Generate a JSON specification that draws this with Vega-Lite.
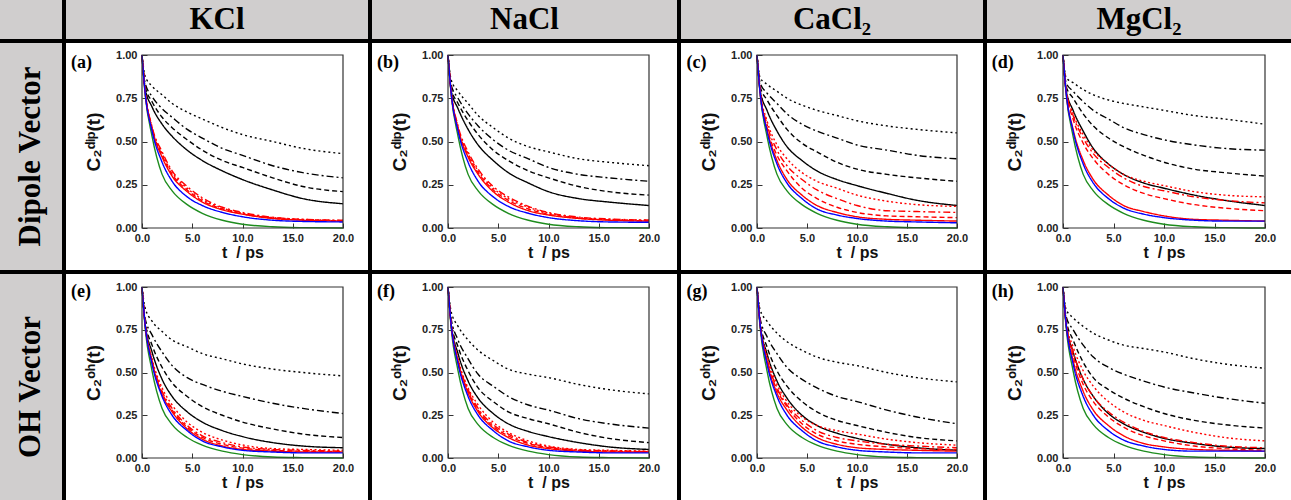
{
"$schema": "https://vega.github.io/schema/vega-lite/v6.json",
"padding": 0,
"background": "white",
"spacing": 0,
"config": {
 "view": {"stroke": null},
 "legend": {"disable": true},
 "axis": {"grid": false, "domain": false, "labelFont": "Liberation Sans", "labelFontWeight": "bold", "labelFontSize": 11, "labelColor": "#222", "titleFont": "Liberation Sans", "titleFontWeight": "bold", "titleFontSize": 16, "titleColor": "#111", "tickColor": "#333", "tickWidth": 1, "labelOverlap": false, "labelFlush": false, "labelBound": false},
 "axisY": {"titleFontSize": 19}
},
"datasets": {
 "gd": [{"t":0,"y":1},{"t":0.3,"y":0.78},{"t":1,"y":0.53},{"t":2,"y":0.31},{"t":3,"y":0.215},{"t":4.5,"y":0.135},{"t":6,"y":0.085},{"t":8,"y":0.045},{"t":10,"y":0.022},{"t":13,"y":0.007},{"t":16,"y":0.002},{"t":20,"y":0}],
 "go": [{"t":0,"y":1},{"t":0.3,"y":0.77},{"t":1,"y":0.51},{"t":2,"y":0.29},{"t":3,"y":0.195},{"t":4.5,"y":0.12},{"t":6,"y":0.075},{"t":8,"y":0.04},{"t":10,"y":0.02},{"t":13,"y":0.006},{"t":16,"y":0.002},{"t":20,"y":0}],
 "a": [
{"s":"K0","t":0,"y":1},{"s":"K0","t":0.3,"y":0.81},{"s":"K0","t":1,"y":0.70},{"s":"K0","t":2,"y":0.60},{"s":"K0","t":3,"y":0.53},{"s":"K0","t":4.5,"y":0.45},{"s":"K0","t":6,"y":0.39},{"s":"K0","t":8,"y":0.33},{"s":"K0","t":10,"y":0.28},{"s":"K0","t":13,"y":0.22},{"s":"K0","t":16,"y":0.17},{"s":"K0","t":20,"y":0.14},
{"s":"K1","t":0,"y":1},{"s":"K1","t":0.3,"y":0.82},{"s":"K1","t":1,"y":0.73},{"s":"K1","t":2,"y":0.64},{"s":"K1","t":3,"y":0.58},{"s":"K1","t":4.5,"y":0.51},{"s":"K1","t":6,"y":0.45},{"s":"K1","t":8,"y":0.39},{"s":"K1","t":10,"y":0.35},{"s":"K1","t":13,"y":0.29},{"s":"K1","t":16,"y":0.24},{"s":"K1","t":20,"y":0.21},
{"s":"K2","t":0,"y":1},{"s":"K2","t":0.3,"y":0.84},{"s":"K2","t":1,"y":0.76},{"s":"K2","t":2,"y":0.69},{"s":"K2","t":3,"y":0.64},{"s":"K2","t":4.5,"y":0.57},{"s":"K2","t":6,"y":0.52},{"s":"K2","t":8,"y":0.46},{"s":"K2","t":10,"y":0.42},{"s":"K2","t":13,"y":0.36},{"s":"K2","t":16,"y":0.32},{"s":"K2","t":20,"y":0.29},
{"s":"K3","t":0,"y":1},{"s":"K3","t":0.3,"y":0.88},{"s":"K3","t":1,"y":0.82},{"s":"K3","t":2,"y":0.77},{"s":"K3","t":3,"y":0.72},{"s":"K3","t":4.5,"y":0.67},{"s":"K3","t":6,"y":0.63},{"s":"K3","t":8,"y":0.58},{"s":"K3","t":10,"y":0.54},{"s":"K3","t":13,"y":0.50},{"s":"K3","t":16,"y":0.46},{"s":"K3","t":20,"y":0.43},
{"s":"R0","t":0,"y":1},{"s":"R0","t":0.3,"y":0.79},{"s":"R0","t":1,"y":0.57},{"s":"R0","t":2,"y":0.41},{"s":"R0","t":3,"y":0.30},{"s":"R0","t":4.5,"y":0.21},{"s":"R0","t":6,"y":0.15},{"s":"R0","t":8,"y":0.105},{"s":"R0","t":10,"y":0.08},{"s":"R0","t":13,"y":0.055},{"s":"R0","t":16,"y":0.045},{"s":"R0","t":20,"y":0.04},
{"s":"R1","t":0,"y":1},{"s":"R1","t":0.3,"y":0.795},{"s":"R1","t":1,"y":0.575},{"s":"R1","t":2,"y":0.42},{"s":"R1","t":3,"y":0.31},{"s":"R1","t":4.5,"y":0.22},{"s":"R1","t":6,"y":0.157},{"s":"R1","t":8,"y":0.11},{"s":"R1","t":10,"y":0.082},{"s":"R1","t":13,"y":0.057},{"s":"R1","t":16,"y":0.047},{"s":"R1","t":20,"y":0.041},
{"s":"R2","t":0,"y":1},{"s":"R2","t":0.3,"y":0.80},{"s":"R2","t":1,"y":0.585},{"s":"R2","t":2,"y":0.44},{"s":"R2","t":3,"y":0.33},{"s":"R2","t":4.5,"y":0.24},{"s":"R2","t":6,"y":0.175},{"s":"R2","t":8,"y":0.12},{"s":"R2","t":10,"y":0.09},{"s":"R2","t":13,"y":0.062},{"s":"R2","t":16,"y":0.05},{"s":"R2","t":20,"y":0.045},
{"s":"R3","t":0,"y":1},{"s":"R3","t":0.3,"y":0.80},{"s":"R3","t":1,"y":0.58},{"s":"R3","t":2,"y":0.43},{"s":"R3","t":3,"y":0.32},{"s":"R3","t":4.5,"y":0.23},{"s":"R3","t":6,"y":0.165},{"s":"R3","t":8,"y":0.115},{"s":"R3","t":10,"y":0.085},{"s":"R3","t":13,"y":0.06},{"s":"R3","t":16,"y":0.05},{"s":"R3","t":20,"y":0.043},
{"s":"B0","t":0,"y":1},{"s":"B0","t":0.3,"y":0.79},{"s":"B0","t":1,"y":0.56},{"s":"B0","t":2,"y":0.38},{"s":"B0","t":3,"y":0.27},{"s":"B0","t":4.5,"y":0.18},{"s":"B0","t":6,"y":0.13},{"s":"B0","t":8,"y":0.09},{"s":"B0","t":10,"y":0.065},{"s":"B0","t":13,"y":0.045},{"s":"B0","t":16,"y":0.038},{"s":"B0","t":20,"y":0.035}
 ],
 "b": [
{"s":"K0","t":0,"y":1},{"s":"K0","t":0.3,"y":0.80},{"s":"K0","t":1,"y":0.69},{"s":"K0","t":2,"y":0.57},{"s":"K0","t":3,"y":0.48},{"s":"K0","t":4.5,"y":0.39},{"s":"K0","t":6,"y":0.32},{"s":"K0","t":8,"y":0.26},{"s":"K0","t":10,"y":0.21},{"s":"K0","t":13,"y":0.17},{"s":"K0","t":16,"y":0.15},{"s":"K0","t":20,"y":0.13},
{"s":"K1","t":0,"y":1},{"s":"K1","t":0.3,"y":0.81},{"s":"K1","t":1,"y":0.72},{"s":"K1","t":2,"y":0.62},{"s":"K1","t":3,"y":0.54},{"s":"K1","t":4.5,"y":0.45},{"s":"K1","t":6,"y":0.39},{"s":"K1","t":8,"y":0.33},{"s":"K1","t":10,"y":0.29},{"s":"K1","t":13,"y":0.24},{"s":"K1","t":16,"y":0.21},{"s":"K1","t":20,"y":0.19},
{"s":"K2","t":0,"y":1},{"s":"K2","t":0.3,"y":0.83},{"s":"K2","t":1,"y":0.75},{"s":"K2","t":2,"y":0.66},{"s":"K2","t":3,"y":0.59},{"s":"K2","t":4.5,"y":0.51},{"s":"K2","t":6,"y":0.45},{"s":"K2","t":8,"y":0.40},{"s":"K2","t":10,"y":0.35},{"s":"K2","t":13,"y":0.31},{"s":"K2","t":16,"y":0.29},{"s":"K2","t":20,"y":0.27},
{"s":"K3","t":0,"y":1},{"s":"K3","t":0.3,"y":0.86},{"s":"K3","t":1,"y":0.79},{"s":"K3","t":2,"y":0.72},{"s":"K3","t":3,"y":0.65},{"s":"K3","t":4.5,"y":0.58},{"s":"K3","t":6,"y":0.52},{"s":"K3","t":8,"y":0.47},{"s":"K3","t":10,"y":0.44},{"s":"K3","t":13,"y":0.40},{"s":"K3","t":16,"y":0.38},{"s":"K3","t":20,"y":0.36},
{"s":"R0","t":0,"y":1},{"s":"R0","t":0.3,"y":0.79},{"s":"R0","t":1,"y":0.57},{"s":"R0","t":2,"y":0.41},{"s":"R0","t":3,"y":0.31},{"s":"R0","t":4.5,"y":0.21},{"s":"R0","t":6,"y":0.15},{"s":"R0","t":8,"y":0.10},{"s":"R0","t":10,"y":0.075},{"s":"R0","t":13,"y":0.055},{"s":"R0","t":16,"y":0.045},{"s":"R0","t":20,"y":0.04},
{"s":"R1","t":0,"y":1},{"s":"R1","t":0.3,"y":0.79},{"s":"R1","t":1,"y":0.575},{"s":"R1","t":2,"y":0.42},{"s":"R1","t":3,"y":0.32},{"s":"R1","t":4.5,"y":0.22},{"s":"R1","t":6,"y":0.16},{"s":"R1","t":8,"y":0.11},{"s":"R1","t":10,"y":0.08},{"s":"R1","t":13,"y":0.057},{"s":"R1","t":16,"y":0.047},{"s":"R1","t":20,"y":0.042},
{"s":"R2","t":0,"y":1},{"s":"R2","t":0.3,"y":0.80},{"s":"R2","t":1,"y":0.59},{"s":"R2","t":2,"y":0.44},{"s":"R2","t":3,"y":0.34},{"s":"R2","t":4.5,"y":0.24},{"s":"R2","t":6,"y":0.18},{"s":"R2","t":8,"y":0.125},{"s":"R2","t":10,"y":0.09},{"s":"R2","t":13,"y":0.063},{"s":"R2","t":16,"y":0.052},{"s":"R2","t":20,"y":0.046},
{"s":"R3","t":0,"y":1},{"s":"R3","t":0.3,"y":0.80},{"s":"R3","t":1,"y":0.58},{"s":"R3","t":2,"y":0.43},{"s":"R3","t":3,"y":0.33},{"s":"R3","t":4.5,"y":0.23},{"s":"R3","t":6,"y":0.17},{"s":"R3","t":8,"y":0.12},{"s":"R3","t":10,"y":0.085},{"s":"R3","t":13,"y":0.06},{"s":"R3","t":16,"y":0.05},{"s":"R3","t":20,"y":0.045},
{"s":"B0","t":0,"y":1},{"s":"B0","t":0.3,"y":0.79},{"s":"B0","t":1,"y":0.56},{"s":"B0","t":2,"y":0.38},{"s":"B0","t":3,"y":0.27},{"s":"B0","t":4.5,"y":0.18},{"s":"B0","t":6,"y":0.125},{"s":"B0","t":8,"y":0.085},{"s":"B0","t":10,"y":0.06},{"s":"B0","t":13,"y":0.042},{"s":"B0","t":16,"y":0.035},{"s":"B0","t":20,"y":0.033}
 ],
 "c": [
{"s":"K0","t":0,"y":1},{"s":"K0","t":0.3,"y":0.80},{"s":"K0","t":1,"y":0.68},{"s":"K0","t":2,"y":0.56},{"s":"K0","t":3,"y":0.47},{"s":"K0","t":4.5,"y":0.39},{"s":"K0","t":6,"y":0.33},{"s":"K0","t":8,"y":0.28},{"s":"K0","t":10,"y":0.245},{"s":"K0","t":13,"y":0.20},{"s":"K0","t":16,"y":0.16},{"s":"K0","t":20,"y":0.13},
{"s":"K1","t":0,"y":1},{"s":"K1","t":0.3,"y":0.82},{"s":"K1","t":1,"y":0.74},{"s":"K1","t":2,"y":0.65},{"s":"K1","t":3,"y":0.57},{"s":"K1","t":4.5,"y":0.49},{"s":"K1","t":6,"y":0.44},{"s":"K1","t":8,"y":0.38},{"s":"K1","t":10,"y":0.34},{"s":"K1","t":13,"y":0.31},{"s":"K1","t":16,"y":0.29},{"s":"K1","t":20,"y":0.27},
{"s":"K2","t":0,"y":1},{"s":"K2","t":0.3,"y":0.84},{"s":"K2","t":1,"y":0.78},{"s":"K2","t":2,"y":0.72},{"s":"K2","t":3,"y":0.66},{"s":"K2","t":4.5,"y":0.60},{"s":"K2","t":6,"y":0.56},{"s":"K2","t":8,"y":0.52},{"s":"K2","t":10,"y":0.48},{"s":"K2","t":13,"y":0.45},{"s":"K2","t":16,"y":0.42},{"s":"K2","t":20,"y":0.40},
{"s":"K3","t":0,"y":1},{"s":"K3","t":0.3,"y":0.87},{"s":"K3","t":1,"y":0.83},{"s":"K3","t":2,"y":0.79},{"s":"K3","t":3,"y":0.75},{"s":"K3","t":4.5,"y":0.71},{"s":"K3","t":6,"y":0.68},{"s":"K3","t":8,"y":0.65},{"s":"K3","t":10,"y":0.62},{"s":"K3","t":13,"y":0.59},{"s":"K3","t":16,"y":0.57},{"s":"K3","t":20,"y":0.55},
{"s":"R0","t":0,"y":1},{"s":"R0","t":0.3,"y":0.79},{"s":"R0","t":1,"y":0.57},{"s":"R0","t":2,"y":0.39},{"s":"R0","t":3,"y":0.28},{"s":"R0","t":4.5,"y":0.19},{"s":"R0","t":6,"y":0.13},{"s":"R0","t":8,"y":0.09},{"s":"R0","t":10,"y":0.065},{"s":"R0","t":13,"y":0.05},{"s":"R0","t":16,"y":0.045},{"s":"R0","t":20,"y":0.04},
{"s":"R1","t":0,"y":1},{"s":"R1","t":0.3,"y":0.79},{"s":"R1","t":1,"y":0.58},{"s":"R1","t":2,"y":0.42},{"s":"R1","t":3,"y":0.33},{"s":"R1","t":4.5,"y":0.23},{"s":"R1","t":6,"y":0.17},{"s":"R1","t":8,"y":0.12},{"s":"R1","t":10,"y":0.09},{"s":"R1","t":13,"y":0.07},{"s":"R1","t":16,"y":0.065},{"s":"R1","t":20,"y":0.06},
{"s":"R2","t":0,"y":1},{"s":"R2","t":0.3,"y":0.80},{"s":"R2","t":1,"y":0.60},{"s":"R2","t":2,"y":0.45},{"s":"R2","t":3,"y":0.36},{"s":"R2","t":4.5,"y":0.28},{"s":"R2","t":6,"y":0.22},{"s":"R2","t":8,"y":0.17},{"s":"R2","t":10,"y":0.13},{"s":"R2","t":13,"y":0.10},{"s":"R2","t":16,"y":0.095},{"s":"R2","t":20,"y":0.09},
{"s":"R3","t":0,"y":1},{"s":"R3","t":0.3,"y":0.80},{"s":"R3","t":1,"y":0.62},{"s":"R3","t":2,"y":0.48},{"s":"R3","t":3,"y":0.40},{"s":"R3","t":4.5,"y":0.32},{"s":"R3","t":6,"y":0.27},{"s":"R3","t":8,"y":0.23},{"s":"R3","t":10,"y":0.19},{"s":"R3","t":13,"y":0.155},{"s":"R3","t":16,"y":0.135},{"s":"R3","t":20,"y":0.125},
{"s":"B0","t":0,"y":1},{"s":"B0","t":0.3,"y":0.79},{"s":"B0","t":1,"y":0.56},{"s":"B0","t":2,"y":0.37},{"s":"B0","t":3,"y":0.26},{"s":"B0","t":4.5,"y":0.17},{"s":"B0","t":6,"y":0.11},{"s":"B0","t":8,"y":0.075},{"s":"B0","t":10,"y":0.055},{"s":"B0","t":13,"y":0.04},{"s":"B0","t":16,"y":0.035},{"s":"B0","t":20,"y":0.03}
 ],
 "d": [
{"s":"K0","t":0,"y":1},{"s":"K0","t":0.3,"y":0.80},{"s":"K0","t":1,"y":0.68},{"s":"K0","t":2,"y":0.56},{"s":"K0","t":3,"y":0.46},{"s":"K0","t":4.5,"y":0.37},{"s":"K0","t":6,"y":0.31},{"s":"K0","t":8,"y":0.26},{"s":"K0","t":10,"y":0.23},{"s":"K0","t":13,"y":0.19},{"s":"K0","t":16,"y":0.16},{"s":"K0","t":20,"y":0.13},
{"s":"K1","t":0,"y":1},{"s":"K1","t":0.3,"y":0.82},{"s":"K1","t":1,"y":0.75},{"s":"K1","t":2,"y":0.66},{"s":"K1","t":3,"y":0.59},{"s":"K1","t":4.5,"y":0.52},{"s":"K1","t":6,"y":0.47},{"s":"K1","t":8,"y":0.42},{"s":"K1","t":10,"y":0.38},{"s":"K1","t":13,"y":0.34},{"s":"K1","t":16,"y":0.32},{"s":"K1","t":20,"y":0.30},
{"s":"K2","t":0,"y":1},{"s":"K2","t":0.3,"y":0.84},{"s":"K2","t":1,"y":0.79},{"s":"K2","t":2,"y":0.73},{"s":"K2","t":3,"y":0.68},{"s":"K2","t":4.5,"y":0.63},{"s":"K2","t":6,"y":0.58},{"s":"K2","t":8,"y":0.54},{"s":"K2","t":10,"y":0.51},{"s":"K2","t":13,"y":0.48},{"s":"K2","t":16,"y":0.46},{"s":"K2","t":20,"y":0.45},
{"s":"K3","t":0,"y":1},{"s":"K3","t":0.3,"y":0.87},{"s":"K3","t":1,"y":0.84},{"s":"K3","t":2,"y":0.80},{"s":"K3","t":3,"y":0.77},{"s":"K3","t":4.5,"y":0.74},{"s":"K3","t":6,"y":0.72},{"s":"K3","t":8,"y":0.70},{"s":"K3","t":10,"y":0.68},{"s":"K3","t":13,"y":0.65},{"s":"K3","t":16,"y":0.63},{"s":"K3","t":20,"y":0.60},
{"s":"R0","t":0,"y":1},{"s":"R0","t":0.3,"y":0.79},{"s":"R0","t":1,"y":0.57},{"s":"R0","t":2,"y":0.39},{"s":"R0","t":3,"y":0.28},{"s":"R0","t":4.5,"y":0.19},{"s":"R0","t":6,"y":0.13},{"s":"R0","t":8,"y":0.095},{"s":"R0","t":10,"y":0.07},{"s":"R0","t":13,"y":0.05},{"s":"R0","t":16,"y":0.045},{"s":"R0","t":20,"y":0.04},
{"s":"R1","t":0,"y":1},{"s":"R1","t":0.3,"y":0.80},{"s":"R1","t":1,"y":0.63},{"s":"R1","t":2,"y":0.49},{"s":"R1","t":3,"y":0.40},{"s":"R1","t":4.5,"y":0.31},{"s":"R1","t":6,"y":0.25},{"s":"R1","t":8,"y":0.20},{"s":"R1","t":10,"y":0.17},{"s":"R1","t":13,"y":0.135},{"s":"R1","t":16,"y":0.115},{"s":"R1","t":20,"y":0.10},
{"s":"R2","t":0,"y":1},{"s":"R2","t":0.3,"y":0.80},{"s":"R2","t":1,"y":0.65},{"s":"R2","t":2,"y":0.52},{"s":"R2","t":3,"y":0.43},{"s":"R2","t":4.5,"y":0.35},{"s":"R2","t":6,"y":0.29},{"s":"R2","t":8,"y":0.24},{"s":"R2","t":10,"y":0.215},{"s":"R2","t":13,"y":0.18},{"s":"R2","t":16,"y":0.16},{"s":"R2","t":20,"y":0.145},
{"s":"R3","t":0,"y":1},{"s":"R3","t":0.3,"y":0.80},{"s":"R3","t":1,"y":0.66},{"s":"R3","t":2,"y":0.54},{"s":"R3","t":3,"y":0.45},{"s":"R3","t":4.5,"y":0.37},{"s":"R3","t":6,"y":0.31},{"s":"R3","t":8,"y":0.27},{"s":"R3","t":10,"y":0.245},{"s":"R3","t":13,"y":0.21},{"s":"R3","t":16,"y":0.19},{"s":"R3","t":20,"y":0.18},
{"s":"B0","t":0,"y":1},{"s":"B0","t":0.3,"y":0.79},{"s":"B0","t":1,"y":0.56},{"s":"B0","t":2,"y":0.37},{"s":"B0","t":3,"y":0.26},{"s":"B0","t":4.5,"y":0.17},{"s":"B0","t":6,"y":0.115},{"s":"B0","t":8,"y":0.08},{"s":"B0","t":10,"y":0.06},{"s":"B0","t":13,"y":0.045},{"s":"B0","t":16,"y":0.04},{"s":"B0","t":20,"y":0.04}
 ],
 "e": [
{"s":"K0","t":0,"y":1},{"s":"K0","t":0.3,"y":0.79},{"s":"K0","t":1,"y":0.62},{"s":"K0","t":2,"y":0.46},{"s":"K0","t":3,"y":0.36},{"s":"K0","t":4.5,"y":0.27},{"s":"K0","t":6,"y":0.21},{"s":"K0","t":8,"y":0.16},{"s":"K0","t":10,"y":0.125},{"s":"K0","t":13,"y":0.09},{"s":"K0","t":16,"y":0.07},{"s":"K0","t":20,"y":0.06},
{"s":"K1","t":0,"y":1},{"s":"K1","t":0.3,"y":0.80},{"s":"K1","t":1,"y":0.66},{"s":"K1","t":2,"y":0.53},{"s":"K1","t":3,"y":0.44},{"s":"K1","t":4.5,"y":0.36},{"s":"K1","t":6,"y":0.30},{"s":"K1","t":8,"y":0.25},{"s":"K1","t":10,"y":0.21},{"s":"K1","t":13,"y":0.17},{"s":"K1","t":16,"y":0.14},{"s":"K1","t":20,"y":0.12},
{"s":"K2","t":0,"y":1},{"s":"K2","t":0.3,"y":0.82},{"s":"K2","t":1,"y":0.72},{"s":"K2","t":2,"y":0.62},{"s":"K2","t":3,"y":0.54},{"s":"K2","t":4.5,"y":0.47},{"s":"K2","t":6,"y":0.43},{"s":"K2","t":8,"y":0.39},{"s":"K2","t":10,"y":0.36},{"s":"K2","t":13,"y":0.32},{"s":"K2","t":16,"y":0.29},{"s":"K2","t":20,"y":0.26},
{"s":"K3","t":0,"y":1},{"s":"K3","t":0.3,"y":0.88},{"s":"K3","t":1,"y":0.80},{"s":"K3","t":2,"y":0.74},{"s":"K3","t":3,"y":0.69},{"s":"K3","t":4.5,"y":0.65},{"s":"K3","t":6,"y":0.61},{"s":"K3","t":8,"y":0.58},{"s":"K3","t":10,"y":0.55},{"s":"K3","t":13,"y":0.52},{"s":"K3","t":16,"y":0.50},{"s":"K3","t":20,"y":0.48},
{"s":"R0","t":0,"y":1},{"s":"R0","t":0.3,"y":0.79},{"s":"R0","t":1,"y":0.56},{"s":"R0","t":2,"y":0.37},{"s":"R0","t":3,"y":0.27},{"s":"R0","t":4.5,"y":0.17},{"s":"R0","t":6,"y":0.11},{"s":"R0","t":8,"y":0.07},{"s":"R0","t":10,"y":0.05},{"s":"R0","t":13,"y":0.04},{"s":"R0","t":16,"y":0.035},{"s":"R0","t":20,"y":0.035},
{"s":"R1","t":0,"y":1},{"s":"R1","t":0.3,"y":0.79},{"s":"R1","t":1,"y":0.565},{"s":"R1","t":2,"y":0.38},{"s":"R1","t":3,"y":0.28},{"s":"R1","t":4.5,"y":0.18},{"s":"R1","t":6,"y":0.12},{"s":"R1","t":8,"y":0.08},{"s":"R1","t":10,"y":0.058},{"s":"R1","t":13,"y":0.045},{"s":"R1","t":16,"y":0.04},{"s":"R1","t":20,"y":0.038},
{"s":"R2","t":0,"y":1},{"s":"R2","t":0.3,"y":0.79},{"s":"R2","t":1,"y":0.57},{"s":"R2","t":2,"y":0.39},{"s":"R2","t":3,"y":0.29},{"s":"R2","t":4.5,"y":0.19},{"s":"R2","t":6,"y":0.13},{"s":"R2","t":8,"y":0.09},{"s":"R2","t":10,"y":0.065},{"s":"R2","t":13,"y":0.05},{"s":"R2","t":16,"y":0.045},{"s":"R2","t":20,"y":0.04},
{"s":"R3","t":0,"y":1},{"s":"R3","t":0.3,"y":0.79},{"s":"R3","t":1,"y":0.58},{"s":"R3","t":2,"y":0.41},{"s":"R3","t":3,"y":0.31},{"s":"R3","t":4.5,"y":0.21},{"s":"R3","t":6,"y":0.15},{"s":"R3","t":8,"y":0.105},{"s":"R3","t":10,"y":0.076},{"s":"R3","t":13,"y":0.055},{"s":"R3","t":16,"y":0.05},{"s":"R3","t":20,"y":0.045},
{"s":"B0","t":0,"y":1},{"s":"B0","t":0.3,"y":0.79},{"s":"B0","t":1,"y":0.55},{"s":"B0","t":2,"y":0.36},{"s":"B0","t":3,"y":0.25},{"s":"B0","t":4.5,"y":0.16},{"s":"B0","t":6,"y":0.10},{"s":"B0","t":8,"y":0.065},{"s":"B0","t":10,"y":0.045},{"s":"B0","t":13,"y":0.035},{"s":"B0","t":16,"y":0.03},{"s":"B0","t":20,"y":0.03}
 ],
 "f": [
{"s":"K0","t":0,"y":1},{"s":"K0","t":0.3,"y":0.79},{"s":"K0","t":1,"y":0.61},{"s":"K0","t":2,"y":0.45},{"s":"K0","t":3,"y":0.35},{"s":"K0","t":4.5,"y":0.26},{"s":"K0","t":6,"y":0.20},{"s":"K0","t":8,"y":0.155},{"s":"K0","t":10,"y":0.125},{"s":"K0","t":13,"y":0.09},{"s":"K0","t":16,"y":0.065},{"s":"K0","t":20,"y":0.05},
{"s":"K1","t":0,"y":1},{"s":"K1","t":0.3,"y":0.80},{"s":"K1","t":1,"y":0.65},{"s":"K1","t":2,"y":0.51},{"s":"K1","t":3,"y":0.41},{"s":"K1","t":4.5,"y":0.33},{"s":"K1","t":6,"y":0.27},{"s":"K1","t":8,"y":0.23},{"s":"K1","t":10,"y":0.20},{"s":"K1","t":13,"y":0.15},{"s":"K1","t":16,"y":0.115},{"s":"K1","t":20,"y":0.09},
{"s":"K2","t":0,"y":1},{"s":"K2","t":0.3,"y":0.82},{"s":"K2","t":1,"y":0.69},{"s":"K2","t":2,"y":0.58},{"s":"K2","t":3,"y":0.49},{"s":"K2","t":4.5,"y":0.42},{"s":"K2","t":6,"y":0.36},{"s":"K2","t":8,"y":0.31},{"s":"K2","t":10,"y":0.28},{"s":"K2","t":13,"y":0.23},{"s":"K2","t":16,"y":0.20},{"s":"K2","t":20,"y":0.175},
{"s":"K3","t":0,"y":1},{"s":"K3","t":0.3,"y":0.86},{"s":"K3","t":1,"y":0.77},{"s":"K3","t":2,"y":0.69},{"s":"K3","t":3,"y":0.63},{"s":"K3","t":4.5,"y":0.57},{"s":"K3","t":6,"y":0.52},{"s":"K3","t":8,"y":0.49},{"s":"K3","t":10,"y":0.47},{"s":"K3","t":13,"y":0.43},{"s":"K3","t":16,"y":0.40},{"s":"K3","t":20,"y":0.375},
{"s":"R0","t":0,"y":1},{"s":"R0","t":0.3,"y":0.79},{"s":"R0","t":1,"y":0.56},{"s":"R0","t":2,"y":0.38},{"s":"R0","t":3,"y":0.27},{"s":"R0","t":4.5,"y":0.175},{"s":"R0","t":6,"y":0.12},{"s":"R0","t":8,"y":0.075},{"s":"R0","t":10,"y":0.055},{"s":"R0","t":13,"y":0.04},{"s":"R0","t":16,"y":0.035},{"s":"R0","t":20,"y":0.035},
{"s":"R1","t":0,"y":1},{"s":"R1","t":0.3,"y":0.79},{"s":"R1","t":1,"y":0.565},{"s":"R1","t":2,"y":0.39},{"s":"R1","t":3,"y":0.28},{"s":"R1","t":4.5,"y":0.185},{"s":"R1","t":6,"y":0.13},{"s":"R1","t":8,"y":0.085},{"s":"R1","t":10,"y":0.06},{"s":"R1","t":13,"y":0.045},{"s":"R1","t":16,"y":0.04},{"s":"R1","t":20,"y":0.037},
{"s":"R2","t":0,"y":1},{"s":"R2","t":0.3,"y":0.79},{"s":"R2","t":1,"y":0.57},{"s":"R2","t":2,"y":0.40},{"s":"R2","t":3,"y":0.29},{"s":"R2","t":4.5,"y":0.195},{"s":"R2","t":6,"y":0.14},{"s":"R2","t":8,"y":0.09},{"s":"R2","t":10,"y":0.065},{"s":"R2","t":13,"y":0.047},{"s":"R2","t":16,"y":0.042},{"s":"R2","t":20,"y":0.038},
{"s":"R3","t":0,"y":1},{"s":"R3","t":0.3,"y":0.79},{"s":"R3","t":1,"y":0.58},{"s":"R3","t":2,"y":0.41},{"s":"R3","t":3,"y":0.31},{"s":"R3","t":4.5,"y":0.21},{"s":"R3","t":6,"y":0.15},{"s":"R3","t":8,"y":0.10},{"s":"R3","t":10,"y":0.07},{"s":"R3","t":13,"y":0.05},{"s":"R3","t":16,"y":0.045},{"s":"R3","t":20,"y":0.04},
{"s":"B0","t":0,"y":1},{"s":"B0","t":0.3,"y":0.79},{"s":"B0","t":1,"y":0.55},{"s":"B0","t":2,"y":0.36},{"s":"B0","t":3,"y":0.25},{"s":"B0","t":4.5,"y":0.16},{"s":"B0","t":6,"y":0.10},{"s":"B0","t":8,"y":0.065},{"s":"B0","t":10,"y":0.045},{"s":"B0","t":13,"y":0.035},{"s":"B0","t":16,"y":0.03},{"s":"B0","t":20,"y":0.03}
 ],
 "g": [
{"s":"K0","t":0,"y":1},{"s":"K0","t":0.3,"y":0.79},{"s":"K0","t":1,"y":0.61},{"s":"K0","t":2,"y":0.45},{"s":"K0","t":3,"y":0.35},{"s":"K0","t":4.5,"y":0.25},{"s":"K0","t":6,"y":0.19},{"s":"K0","t":8,"y":0.145},{"s":"K0","t":10,"y":0.115},{"s":"K0","t":13,"y":0.08},{"s":"K0","t":16,"y":0.06},{"s":"K0","t":20,"y":0.045},
{"s":"K1","t":0,"y":1},{"s":"K1","t":0.3,"y":0.80},{"s":"K1","t":1,"y":0.65},{"s":"K1","t":2,"y":0.51},{"s":"K1","t":3,"y":0.42},{"s":"K1","t":4.5,"y":0.33},{"s":"K1","t":6,"y":0.27},{"s":"K1","t":8,"y":0.22},{"s":"K1","t":10,"y":0.19},{"s":"K1","t":13,"y":0.15},{"s":"K1","t":16,"y":0.12},{"s":"K1","t":20,"y":0.10},
{"s":"K2","t":0,"y":1},{"s":"K2","t":0.3,"y":0.82},{"s":"K2","t":1,"y":0.71},{"s":"K2","t":2,"y":0.61},{"s":"K2","t":3,"y":0.53},{"s":"K2","t":4.5,"y":0.46},{"s":"K2","t":6,"y":0.41},{"s":"K2","t":8,"y":0.36},{"s":"K2","t":10,"y":0.33},{"s":"K2","t":13,"y":0.28},{"s":"K2","t":16,"y":0.24},{"s":"K2","t":20,"y":0.20},
{"s":"K3","t":0,"y":1},{"s":"K3","t":0.3,"y":0.87},{"s":"K3","t":1,"y":0.80},{"s":"K3","t":2,"y":0.73},{"s":"K3","t":3,"y":0.68},{"s":"K3","t":4.5,"y":0.63},{"s":"K3","t":6,"y":0.59},{"s":"K3","t":8,"y":0.56},{"s":"K3","t":10,"y":0.54},{"s":"K3","t":13,"y":0.50},{"s":"K3","t":16,"y":0.47},{"s":"K3","t":20,"y":0.445},
{"s":"R0","t":0,"y":1},{"s":"R0","t":0.3,"y":0.79},{"s":"R0","t":1,"y":0.56},{"s":"R0","t":2,"y":0.38},{"s":"R0","t":3,"y":0.28},{"s":"R0","t":4.5,"y":0.18},{"s":"R0","t":6,"y":0.12},{"s":"R0","t":8,"y":0.08},{"s":"R0","t":10,"y":0.06},{"s":"R0","t":13,"y":0.05},{"s":"R0","t":16,"y":0.045},{"s":"R0","t":20,"y":0.04},
{"s":"R1","t":0,"y":1},{"s":"R1","t":0.3,"y":0.79},{"s":"R1","t":1,"y":0.57},{"s":"R1","t":2,"y":0.40},{"s":"R1","t":3,"y":0.30},{"s":"R1","t":4.5,"y":0.20},{"s":"R1","t":6,"y":0.14},{"s":"R1","t":8,"y":0.10},{"s":"R1","t":10,"y":0.08},{"s":"R1","t":13,"y":0.065},{"s":"R1","t":16,"y":0.055},{"s":"R1","t":20,"y":0.05},
{"s":"R2","t":0,"y":1},{"s":"R2","t":0.3,"y":0.79},{"s":"R2","t":1,"y":0.58},{"s":"R2","t":2,"y":0.41},{"s":"R2","t":3,"y":0.31},{"s":"R2","t":4.5,"y":0.22},{"s":"R2","t":6,"y":0.16},{"s":"R2","t":8,"y":0.12},{"s":"R2","t":10,"y":0.10},{"s":"R2","t":13,"y":0.08},{"s":"R2","t":16,"y":0.07},{"s":"R2","t":20,"y":0.06},
{"s":"R3","t":0,"y":1},{"s":"R3","t":0.3,"y":0.79},{"s":"R3","t":1,"y":0.60},{"s":"R3","t":2,"y":0.43},{"s":"R3","t":3,"y":0.33},{"s":"R3","t":4.5,"y":0.24},{"s":"R3","t":6,"y":0.19},{"s":"R3","t":8,"y":0.16},{"s":"R3","t":10,"y":0.14},{"s":"R3","t":13,"y":0.11},{"s":"R3","t":16,"y":0.09},{"s":"R3","t":20,"y":0.075},
{"s":"B0","t":0,"y":1},{"s":"B0","t":0.3,"y":0.79},{"s":"B0","t":1,"y":0.55},{"s":"B0","t":2,"y":0.36},{"s":"B0","t":3,"y":0.25},{"s":"B0","t":4.5,"y":0.16},{"s":"B0","t":6,"y":0.10},{"s":"B0","t":8,"y":0.065},{"s":"B0","t":10,"y":0.045},{"s":"B0","t":13,"y":0.035},{"s":"B0","t":16,"y":0.03},{"s":"B0","t":20,"y":0.03}
 ],
 "h": [
{"s":"K0","t":0,"y":1},{"s":"K0","t":0.3,"y":0.79},{"s":"K0","t":1,"y":0.62},{"s":"K0","t":2,"y":0.46},{"s":"K0","t":3,"y":0.36},{"s":"K0","t":4.5,"y":0.26},{"s":"K0","t":6,"y":0.20},{"s":"K0","t":8,"y":0.15},{"s":"K0","t":10,"y":0.115},{"s":"K0","t":13,"y":0.085},{"s":"K0","t":16,"y":0.065},{"s":"K0","t":20,"y":0.055},
{"s":"K1","t":0,"y":1},{"s":"K1","t":0.3,"y":0.81},{"s":"K1","t":1,"y":0.69},{"s":"K1","t":2,"y":0.56},{"s":"K1","t":3,"y":0.47},{"s":"K1","t":4.5,"y":0.40},{"s":"K1","t":6,"y":0.35},{"s":"K1","t":8,"y":0.30},{"s":"K1","t":10,"y":0.26},{"s":"K1","t":13,"y":0.22},{"s":"K1","t":16,"y":0.195},{"s":"K1","t":20,"y":0.175},
{"s":"K2","t":0,"y":1},{"s":"K2","t":0.3,"y":0.83},{"s":"K2","t":1,"y":0.75},{"s":"K2","t":2,"y":0.66},{"s":"K2","t":3,"y":0.59},{"s":"K2","t":4.5,"y":0.53},{"s":"K2","t":6,"y":0.49},{"s":"K2","t":8,"y":0.45},{"s":"K2","t":10,"y":0.415},{"s":"K2","t":13,"y":0.38},{"s":"K2","t":16,"y":0.35},{"s":"K2","t":20,"y":0.32},
{"s":"K3","t":0,"y":1},{"s":"K3","t":0.3,"y":0.87},{"s":"K3","t":1,"y":0.82},{"s":"K3","t":2,"y":0.77},{"s":"K3","t":3,"y":0.73},{"s":"K3","t":4.5,"y":0.69},{"s":"K3","t":6,"y":0.66},{"s":"K3","t":8,"y":0.64},{"s":"K3","t":10,"y":0.62},{"s":"K3","t":13,"y":0.58},{"s":"K3","t":16,"y":0.55},{"s":"K3","t":20,"y":0.525},
{"s":"R0","t":0,"y":1},{"s":"R0","t":0.3,"y":0.79},{"s":"R0","t":1,"y":0.57},{"s":"R0","t":2,"y":0.39},{"s":"R0","t":3,"y":0.28},{"s":"R0","t":4.5,"y":0.19},{"s":"R0","t":6,"y":0.13},{"s":"R0","t":8,"y":0.085},{"s":"R0","t":10,"y":0.065},{"s":"R0","t":13,"y":0.05},{"s":"R0","t":16,"y":0.045},{"s":"R0","t":20,"y":0.04},
{"s":"R1","t":0,"y":1},{"s":"R1","t":0.3,"y":0.79},{"s":"R1","t":1,"y":0.60},{"s":"R1","t":2,"y":0.43},{"s":"R1","t":3,"y":0.33},{"s":"R1","t":4.5,"y":0.24},{"s":"R1","t":6,"y":0.18},{"s":"R1","t":8,"y":0.13},{"s":"R1","t":10,"y":0.10},{"s":"R1","t":13,"y":0.07},{"s":"R1","t":16,"y":0.055},{"s":"R1","t":20,"y":0.045},
{"s":"R2","t":0,"y":1},{"s":"R2","t":0.3,"y":0.79},{"s":"R2","t":1,"y":0.62},{"s":"R2","t":2,"y":0.46},{"s":"R2","t":3,"y":0.36},{"s":"R2","t":4.5,"y":0.27},{"s":"R2","t":6,"y":0.21},{"s":"R2","t":8,"y":0.155},{"s":"R2","t":10,"y":0.12},{"s":"R2","t":13,"y":0.09},{"s":"R2","t":16,"y":0.07},{"s":"R2","t":20,"y":0.06},
{"s":"R3","t":0,"y":1},{"s":"R3","t":0.3,"y":0.80},{"s":"R3","t":1,"y":0.65},{"s":"R3","t":2,"y":0.51},{"s":"R3","t":3,"y":0.42},{"s":"R3","t":4.5,"y":0.33},{"s":"R3","t":6,"y":0.27},{"s":"R3","t":8,"y":0.22},{"s":"R3","t":10,"y":0.19},{"s":"R3","t":13,"y":0.15},{"s":"R3","t":16,"y":0.12},{"s":"R3","t":20,"y":0.10},
{"s":"B0","t":0,"y":1},{"s":"B0","t":0.3,"y":0.79},{"s":"B0","t":1,"y":0.55},{"s":"B0","t":2,"y":0.36},{"s":"B0","t":3,"y":0.25},{"s":"B0","t":4.5,"y":0.16},{"s":"B0","t":6,"y":0.105},{"s":"B0","t":8,"y":0.07},{"s":"B0","t":10,"y":0.05},{"s":"B0","t":13,"y":0.04},{"s":"B0","t":16,"y":0.04},{"s":"B0","t":20,"y":0.04}
 ]
},
"vconcat": [
 {"spacing": 0, "hconcat": [
  {"width":62,"height":39,"data":{"values":[]},"mark":{"type":"text","text":""},"view":{"fill":"#d0cece"}},
  {"width":4,"height":39,"data":{"values":[]},"mark":{"type":"text","text":""},"view":{"fill":"#000"}},
  {"width":302,"height":39,"data":{"values":[{"n":"KCl"}]},"mark":{"type":"text","font":"Liberation Serif","fontWeight":"bold","fontSize":31,"baseline":"middle","align":"center"},"encoding":{"text":{"field":"n"}},"view":{"fill":"#d0cece"}},
  {"width":4,"height":39,"data":{"values":[]},"mark":{"type":"text","text":""},"view":{"fill":"#000"}},
  {"width":305,"height":39,"data":{"values":[{"n":"NaCl"}]},"mark":{"type":"text","font":"Liberation Serif","fontWeight":"bold","fontSize":31,"baseline":"middle","align":"center"},"encoding":{"text":{"field":"n"}},"view":{"fill":"#d0cece"}},
  {"width":4,"height":39,"data":{"values":[]},"mark":{"type":"text","text":""},"view":{"fill":"#000"}},
  {"width":302,"height":39,"data":{"values":[{"n":"CaCl₂"}]},"mark":{"type":"text","font":"Liberation Serif","fontWeight":"bold","fontSize":31,"baseline":"middle","align":"center"},"encoding":{"text":{"field":"n"}},"view":{"fill":"#d0cece"}},
  {"width":4,"height":39,"data":{"values":[]},"mark":{"type":"text","text":""},"view":{"fill":"#000"}},
  {"width":304,"height":39,"data":{"values":[{"n":"MgCl₂"}]},"mark":{"type":"text","font":"Liberation Serif","fontWeight":"bold","fontSize":31,"baseline":"middle","align":"center"},"encoding":{"text":{"field":"n"}},"view":{"fill":"#d0cece"}}
 ]},
 {"width":1291,"height":4,"data":{"values":[]},"mark":{"type":"text","text":""},"view":{"fill":"#000"}},
 {"spacing": 0, "hconcat": [
  {"width":62,"height":227,"data":{"values":[{"n":"Dipole Vector"}]},"mark":{"type":"text","font":"Liberation Serif","fontWeight":"bold","fontSize":31,"angle":270,"baseline":"middle","align":"center"},"encoding":{"text":{"field":"n"}},"view":{"fill":"#d0cece"}},
  {"width":4,"height":227,"data":{"values":[]},"mark":{"type":"text","text":""},"view":{"fill":"#000"}},
  {"width":302,"height":227,"layer":[
   {"data":{"name":"gd"},"mark":{"type":"line","color":"#1e8c1e","strokeWidth":1.4,"interpolate":"monotone"},"encoding":{"x":{"field":"t","type":"quantitative"},"y":{"field":"y","type":"quantitative"}}},
   {"data":{"name":"a"},"mark":{"type":"line","interpolate":"monotone"},"encoding":{
    "x":{"field":"t","type":"quantitative","scale":{"domain":[0,20],"range":[76,277],"nice":false,"zero":false},"axis":{"offset":-42,"values":[0,2.5,5,7.5,10,12.5,15,17.5,20],"format":".1f","labelExpr":"datum.value % 5 === 0 ? datum.label : ''","tickSize":{"condition":{"test":"datum.value % 5 === 0","value":-5},"value":-3},"labelPadding":9,"title":"t\u00a0 / ps","titlePadding":1}},
    "y":{"field":"y","type":"quantitative","scale":{"domain":[0,1],"range":[185,12],"nice":false,"zero":false},"axis":{"offset":-76,"values":[0,0.125,0.25,0.375,0.5,0.625,0.75,0.875,1],"format":".2f","labelExpr":"datum.value % 0.25 === 0 ? datum.label : ''","tickSize":{"condition":{"test":"datum.value % 0.25 === 0","value":-5},"value":-3},"labelPadding":10,"title":"C₂ᵈⁱᵖ(t)","titlePadding":12}},
    "color":{"field":"s","type":"nominal","scale":{"domain":["K0","K1","K2","K3","R0","R1","R2","R3","B0"],"range":["#000000","#000000","#000000","#000000","#ff0000","#ff0000","#ff0000","#ff0000","#0000ff"]}},
    "strokeDash":{"field":"s","type":"nominal","scale":{"domain":["K0","K1","K2","K3","R0","R1","R2","R3","B0"],"range":[[1,0],[5,3],[7,3,2,3],[2,3],[1,0],[5,3],[7,3,2,3],[2,2.5],[1,0]]}},
    "strokeWidth":{"field":"s","type":"ordinal","scale":{"domain":["K0","K1","K2","K3","R0","R1","R2","R3","B0"],"range":[1.4,1.4,1.4,1.7,1.6,1.6,1.6,2.2,2.8]}}}},
   {"data":{"values":[{}]},"mark":{"type":"rect","filled":false,"color":"#333","strokeWidth":1.2},"encoding":{"x":{"datum":0,"type":"quantitative"},"x2":{"datum":20},"y":{"datum":0,"type":"quantitative"},"y2":{"datum":1}}},
   {"data":{"values":[{"lab":"(a)"}]},"mark":{"type":"text","font":"Liberation Serif","fontWeight":"bold","fontSize":18,"align":"left","baseline":"alphabetic"},"encoding":{"x":{"datum":-7.06,"type":"quantitative","scale":{"domain":[0,20],"nice":false,"zero":false}},"y":{"datum":0.925,"type":"quantitative","scale":{"domain":[0,1],"nice":false,"zero":false}},"text":{"field":"lab"}}}
  ]},
  {"width":4,"height":227,"data":{"values":[]},"mark":{"type":"text","text":""},"view":{"fill":"#000"}},
  {"width":305,"height":227,"layer":[
   {"data":{"name":"gd"},"mark":{"type":"line","color":"#1e8c1e","strokeWidth":1.4,"interpolate":"monotone"},"encoding":{"x":{"field":"t","type":"quantitative"},"y":{"field":"y","type":"quantitative"}}},
   {"data":{"name":"b"},"mark":{"type":"line","interpolate":"monotone"},"encoding":{
    "x":{"field":"t","type":"quantitative","scale":{"domain":[0,20],"range":[76,277],"nice":false,"zero":false},"axis":{"offset":-42,"values":[0,2.5,5,7.5,10,12.5,15,17.5,20],"format":".1f","labelExpr":"datum.value % 5 === 0 ? datum.label : ''","tickSize":{"condition":{"test":"datum.value % 5 === 0","value":-5},"value":-3},"labelPadding":9,"title":"t\u00a0 / ps","titlePadding":1}},
    "y":{"field":"y","type":"quantitative","scale":{"domain":[0,1],"range":[185,12],"nice":false,"zero":false},"axis":{"offset":-76,"values":[0,0.125,0.25,0.375,0.5,0.625,0.75,0.875,1],"format":".2f","labelExpr":"datum.value % 0.25 === 0 ? datum.label : ''","tickSize":{"condition":{"test":"datum.value % 0.25 === 0","value":-5},"value":-3},"labelPadding":10,"title":"C₂ᵈⁱᵖ(t)","titlePadding":12}},
    "color":{"field":"s","type":"nominal","scale":{"domain":["K0","K1","K2","K3","R0","R1","R2","R3","B0"],"range":["#000000","#000000","#000000","#000000","#ff0000","#ff0000","#ff0000","#ff0000","#0000ff"]}},
    "strokeDash":{"field":"s","type":"nominal","scale":{"domain":["K0","K1","K2","K3","R0","R1","R2","R3","B0"],"range":[[1,0],[5,3],[7,3,2,3],[2,3],[1,0],[5,3],[7,3,2,3],[2,2.5],[1,0]]}},
    "strokeWidth":{"field":"s","type":"ordinal","scale":{"domain":["K0","K1","K2","K3","R0","R1","R2","R3","B0"],"range":[1.4,1.4,1.4,1.7,1.6,1.6,1.6,2.2,2.8]}}}},
   {"data":{"values":[{}]},"mark":{"type":"rect","filled":false,"color":"#333","strokeWidth":1.2},"encoding":{"x":{"datum":0,"type":"quantitative"},"x2":{"datum":20},"y":{"datum":0,"type":"quantitative"},"y2":{"datum":1}}},
   {"data":{"values":[{"lab":"(b)"}]},"mark":{"type":"text","font":"Liberation Serif","fontWeight":"bold","fontSize":18,"align":"left","baseline":"alphabetic"},"encoding":{"x":{"datum":-7.06,"type":"quantitative","scale":{"domain":[0,20],"nice":false,"zero":false}},"y":{"datum":0.925,"type":"quantitative","scale":{"domain":[0,1],"nice":false,"zero":false}},"text":{"field":"lab"}}}
  ]},
  {"width":4,"height":227,"data":{"values":[]},"mark":{"type":"text","text":""},"view":{"fill":"#000"}},
  {"width":302,"height":227,"layer":[
   {"data":{"name":"gd"},"mark":{"type":"line","color":"#1e8c1e","strokeWidth":1.4,"interpolate":"monotone"},"encoding":{"x":{"field":"t","type":"quantitative"},"y":{"field":"y","type":"quantitative"}}},
   {"data":{"name":"c"},"mark":{"type":"line","interpolate":"monotone"},"encoding":{
    "x":{"field":"t","type":"quantitative","scale":{"domain":[0,20],"range":[76,276],"nice":false,"zero":false},"axis":{"offset":-42,"values":[0,2.5,5,7.5,10,12.5,15,17.5,20],"format":".1f","labelExpr":"datum.value % 5 === 0 ? datum.label : ''","tickSize":{"condition":{"test":"datum.value % 5 === 0","value":-5},"value":-3},"labelPadding":9,"title":"t\u00a0 / ps","titlePadding":1}},
    "y":{"field":"y","type":"quantitative","scale":{"domain":[0,1],"range":[185,12],"nice":false,"zero":false},"axis":{"offset":-76,"values":[0,0.125,0.25,0.375,0.5,0.625,0.75,0.875,1],"format":".2f","labelExpr":"datum.value % 0.25 === 0 ? datum.label : ''","tickSize":{"condition":{"test":"datum.value % 0.25 === 0","value":-5},"value":-3},"labelPadding":10,"title":"C₂ᵈⁱᵖ(t)","titlePadding":12}},
    "color":{"field":"s","type":"nominal","scale":{"domain":["K0","K1","K2","K3","R0","R1","R2","R3","B0"],"range":["#000000","#000000","#000000","#000000","#ff0000","#ff0000","#ff0000","#ff0000","#0000ff"]}},
    "strokeDash":{"field":"s","type":"nominal","scale":{"domain":["K0","K1","K2","K3","R0","R1","R2","R3","B0"],"range":[[1,0],[5,3],[7,3,2,3],[2,3],[1,0],[5,3],[7,3,2,3],[2,2.5],[1,0]]}},
    "strokeWidth":{"field":"s","type":"ordinal","scale":{"domain":["K0","K1","K2","K3","R0","R1","R2","R3","B0"],"range":[1.4,1.4,1.4,1.7,1.6,1.6,1.6,2.2,2.8]}}}},
   {"data":{"values":[{}]},"mark":{"type":"rect","filled":false,"color":"#333","strokeWidth":1.2},"encoding":{"x":{"datum":0,"type":"quantitative"},"x2":{"datum":20},"y":{"datum":0,"type":"quantitative"},"y2":{"datum":1}}},
   {"data":{"values":[{"lab":"(c)"}]},"mark":{"type":"text","font":"Liberation Serif","fontWeight":"bold","fontSize":18,"align":"left","baseline":"alphabetic"},"encoding":{"x":{"datum":-7.06,"type":"quantitative","scale":{"domain":[0,20],"nice":false,"zero":false}},"y":{"datum":0.925,"type":"quantitative","scale":{"domain":[0,1],"nice":false,"zero":false}},"text":{"field":"lab"}}}
  ]},
  {"width":4,"height":227,"data":{"values":[]},"mark":{"type":"text","text":""},"view":{"fill":"#000"}},
  {"width":304,"height":227,"layer":[
   {"data":{"name":"gd"},"mark":{"type":"line","color":"#1e8c1e","strokeWidth":1.4,"interpolate":"monotone"},"encoding":{"x":{"field":"t","type":"quantitative"},"y":{"field":"y","type":"quantitative"}}},
   {"data":{"name":"d"},"mark":{"type":"line","interpolate":"monotone"},"encoding":{
    "x":{"field":"t","type":"quantitative","scale":{"domain":[0,20],"range":[76,278],"nice":false,"zero":false},"axis":{"offset":-42,"values":[0,2.5,5,7.5,10,12.5,15,17.5,20],"format":".1f","labelExpr":"datum.value % 5 === 0 ? datum.label : ''","tickSize":{"condition":{"test":"datum.value % 5 === 0","value":-5},"value":-3},"labelPadding":9,"title":"t\u00a0 / ps","titlePadding":1}},
    "y":{"field":"y","type":"quantitative","scale":{"domain":[0,1],"range":[185,12],"nice":false,"zero":false},"axis":{"offset":-76,"values":[0,0.125,0.25,0.375,0.5,0.625,0.75,0.875,1],"format":".2f","labelExpr":"datum.value % 0.25 === 0 ? datum.label : ''","tickSize":{"condition":{"test":"datum.value % 0.25 === 0","value":-5},"value":-3},"labelPadding":10,"title":"C₂ᵈⁱᵖ(t)","titlePadding":12}},
    "color":{"field":"s","type":"nominal","scale":{"domain":["K0","K1","K2","K3","R0","R1","R2","R3","B0"],"range":["#000000","#000000","#000000","#000000","#ff0000","#ff0000","#ff0000","#ff0000","#0000ff"]}},
    "strokeDash":{"field":"s","type":"nominal","scale":{"domain":["K0","K1","K2","K3","R0","R1","R2","R3","B0"],"range":[[1,0],[5,3],[7,3,2,3],[2,3],[1,0],[5,3],[7,3,2,3],[2,2.5],[1,0]]}},
    "strokeWidth":{"field":"s","type":"ordinal","scale":{"domain":["K0","K1","K2","K3","R0","R1","R2","R3","B0"],"range":[1.4,1.4,1.4,1.7,1.6,1.6,1.6,2.2,2.8]}}}},
   {"data":{"values":[{}]},"mark":{"type":"rect","filled":false,"color":"#333","strokeWidth":1.2},"encoding":{"x":{"datum":0,"type":"quantitative"},"x2":{"datum":20},"y":{"datum":0,"type":"quantitative"},"y2":{"datum":1}}},
   {"data":{"values":[{"lab":"(d)"}]},"mark":{"type":"text","font":"Liberation Serif","fontWeight":"bold","fontSize":18,"align":"left","baseline":"alphabetic"},"encoding":{"x":{"datum":-7.06,"type":"quantitative","scale":{"domain":[0,20],"nice":false,"zero":false}},"y":{"datum":0.925,"type":"quantitative","scale":{"domain":[0,1],"nice":false,"zero":false}},"text":{"field":"lab"}}}
  ]}
 ]},
 {"width":1291,"height":4,"data":{"values":[]},"mark":{"type":"text","text":""},"view":{"fill":"#000"}},
 {"spacing": 0, "hconcat": [
  {"width":62,"height":226,"data":{"values":[{"n":"OH Vector"}]},"mark":{"type":"text","font":"Liberation Serif","fontWeight":"bold","fontSize":31,"angle":270,"baseline":"middle","align":"center"},"encoding":{"text":{"field":"n"}},"view":{"fill":"#d0cece"}},
  {"width":4,"height":226,"data":{"values":[]},"mark":{"type":"text","text":""},"view":{"fill":"#000"}},
  {"width":302,"height":226,"layer":[
   {"data":{"name":"go"},"mark":{"type":"line","color":"#1e8c1e","strokeWidth":1.4,"interpolate":"monotone"},"encoding":{"x":{"field":"t","type":"quantitative"},"y":{"field":"y","type":"quantitative"}}},
   {"data":{"name":"e"},"mark":{"type":"line","interpolate":"monotone"},"encoding":{
    "x":{"field":"t","type":"quantitative","scale":{"domain":[0,20],"range":[76,277],"nice":false,"zero":false},"axis":{"offset":-42,"values":[0,2.5,5,7.5,10,12.5,15,17.5,20],"format":".1f","labelExpr":"datum.value % 5 === 0 ? datum.label : ''","tickSize":{"condition":{"test":"datum.value % 5 === 0","value":-5},"value":-3},"labelPadding":9,"title":"t\u00a0 / ps","titlePadding":1}},
    "y":{"field":"y","type":"quantitative","scale":{"domain":[0,1],"range":[184,13],"nice":false,"zero":false},"axis":{"offset":-76,"values":[0,0.125,0.25,0.375,0.5,0.625,0.75,0.875,1],"format":".2f","labelExpr":"datum.value % 0.25 === 0 ? datum.label : ''","tickSize":{"condition":{"test":"datum.value % 0.25 === 0","value":-5},"value":-3},"labelPadding":10,"title":"C₂ᵒʰ(t)","titlePadding":12}},
    "color":{"field":"s","type":"nominal","scale":{"domain":["K0","K1","K2","K3","R0","R1","R2","R3","B0"],"range":["#000000","#000000","#000000","#000000","#ff0000","#ff0000","#ff0000","#ff0000","#0000ff"]}},
    "strokeDash":{"field":"s","type":"nominal","scale":{"domain":["K0","K1","K2","K3","R0","R1","R2","R3","B0"],"range":[[1,0],[5,3],[7,3,2,3],[2,3],[1,0],[5,3],[7,3,2,3],[2,2.5],[1,0]]}},
    "strokeWidth":{"field":"s","type":"ordinal","scale":{"domain":["K0","K1","K2","K3","R0","R1","R2","R3","B0"],"range":[1.4,1.4,1.4,1.7,1.6,1.6,1.6,2.2,2.8]}}}},
   {"data":{"values":[{}]},"mark":{"type":"rect","filled":false,"color":"#333","strokeWidth":1.2},"encoding":{"x":{"datum":0,"type":"quantitative"},"x2":{"datum":20},"y":{"datum":0,"type":"quantitative"},"y2":{"datum":1}}},
   {"data":{"values":[{"lab":"(e)"}]},"mark":{"type":"text","font":"Liberation Serif","fontWeight":"bold","fontSize":18,"align":"left","baseline":"alphabetic"},"encoding":{"x":{"datum":-7.06,"type":"quantitative","scale":{"domain":[0,20],"nice":false,"zero":false}},"y":{"datum":0.94,"type":"quantitative","scale":{"domain":[0,1],"nice":false,"zero":false}},"text":{"field":"lab"}}}
  ]},
  {"width":4,"height":226,"data":{"values":[]},"mark":{"type":"text","text":""},"view":{"fill":"#000"}},
  {"width":305,"height":226,"layer":[
   {"data":{"name":"go"},"mark":{"type":"line","color":"#1e8c1e","strokeWidth":1.4,"interpolate":"monotone"},"encoding":{"x":{"field":"t","type":"quantitative"},"y":{"field":"y","type":"quantitative"}}},
   {"data":{"name":"f"},"mark":{"type":"line","interpolate":"monotone"},"encoding":{
    "x":{"field":"t","type":"quantitative","scale":{"domain":[0,20],"range":[76,277],"nice":false,"zero":false},"axis":{"offset":-42,"values":[0,2.5,5,7.5,10,12.5,15,17.5,20],"format":".1f","labelExpr":"datum.value % 5 === 0 ? datum.label : ''","tickSize":{"condition":{"test":"datum.value % 5 === 0","value":-5},"value":-3},"labelPadding":9,"title":"t\u00a0 / ps","titlePadding":1}},
    "y":{"field":"y","type":"quantitative","scale":{"domain":[0,1],"range":[184,13],"nice":false,"zero":false},"axis":{"offset":-76,"values":[0,0.125,0.25,0.375,0.5,0.625,0.75,0.875,1],"format":".2f","labelExpr":"datum.value % 0.25 === 0 ? datum.label : ''","tickSize":{"condition":{"test":"datum.value % 0.25 === 0","value":-5},"value":-3},"labelPadding":10,"title":"C₂ᵒʰ(t)","titlePadding":12}},
    "color":{"field":"s","type":"nominal","scale":{"domain":["K0","K1","K2","K3","R0","R1","R2","R3","B0"],"range":["#000000","#000000","#000000","#000000","#ff0000","#ff0000","#ff0000","#ff0000","#0000ff"]}},
    "strokeDash":{"field":"s","type":"nominal","scale":{"domain":["K0","K1","K2","K3","R0","R1","R2","R3","B0"],"range":[[1,0],[5,3],[7,3,2,3],[2,3],[1,0],[5,3],[7,3,2,3],[2,2.5],[1,0]]}},
    "strokeWidth":{"field":"s","type":"ordinal","scale":{"domain":["K0","K1","K2","K3","R0","R1","R2","R3","B0"],"range":[1.4,1.4,1.4,1.7,1.6,1.6,1.6,2.2,2.8]}}}},
   {"data":{"values":[{}]},"mark":{"type":"rect","filled":false,"color":"#333","strokeWidth":1.2},"encoding":{"x":{"datum":0,"type":"quantitative"},"x2":{"datum":20},"y":{"datum":0,"type":"quantitative"},"y2":{"datum":1}}},
   {"data":{"values":[{"lab":"(f)"}]},"mark":{"type":"text","font":"Liberation Serif","fontWeight":"bold","fontSize":18,"align":"left","baseline":"alphabetic"},"encoding":{"x":{"datum":-7.06,"type":"quantitative","scale":{"domain":[0,20],"nice":false,"zero":false}},"y":{"datum":0.94,"type":"quantitative","scale":{"domain":[0,1],"nice":false,"zero":false}},"text":{"field":"lab"}}}
  ]},
  {"width":4,"height":226,"data":{"values":[]},"mark":{"type":"text","text":""},"view":{"fill":"#000"}},
  {"width":302,"height":226,"layer":[
   {"data":{"name":"go"},"mark":{"type":"line","color":"#1e8c1e","strokeWidth":1.4,"interpolate":"monotone"},"encoding":{"x":{"field":"t","type":"quantitative"},"y":{"field":"y","type":"quantitative"}}},
   {"data":{"name":"g"},"mark":{"type":"line","interpolate":"monotone"},"encoding":{
    "x":{"field":"t","type":"quantitative","scale":{"domain":[0,20],"range":[76,276],"nice":false,"zero":false},"axis":{"offset":-42,"values":[0,2.5,5,7.5,10,12.5,15,17.5,20],"format":".1f","labelExpr":"datum.value % 5 === 0 ? datum.label : ''","tickSize":{"condition":{"test":"datum.value % 5 === 0","value":-5},"value":-3},"labelPadding":9,"title":"t\u00a0 / ps","titlePadding":1}},
    "y":{"field":"y","type":"quantitative","scale":{"domain":[0,1],"range":[184,13],"nice":false,"zero":false},"axis":{"offset":-76,"values":[0,0.125,0.25,0.375,0.5,0.625,0.75,0.875,1],"format":".2f","labelExpr":"datum.value % 0.25 === 0 ? datum.label : ''","tickSize":{"condition":{"test":"datum.value % 0.25 === 0","value":-5},"value":-3},"labelPadding":10,"title":"C₂ᵒʰ(t)","titlePadding":12}},
    "color":{"field":"s","type":"nominal","scale":{"domain":["K0","K1","K2","K3","R0","R1","R2","R3","B0"],"range":["#000000","#000000","#000000","#000000","#ff0000","#ff0000","#ff0000","#ff0000","#0000ff"]}},
    "strokeDash":{"field":"s","type":"nominal","scale":{"domain":["K0","K1","K2","K3","R0","R1","R2","R3","B0"],"range":[[1,0],[5,3],[7,3,2,3],[2,3],[1,0],[5,3],[7,3,2,3],[2,2.5],[1,0]]}},
    "strokeWidth":{"field":"s","type":"ordinal","scale":{"domain":["K0","K1","K2","K3","R0","R1","R2","R3","B0"],"range":[1.4,1.4,1.4,1.7,1.6,1.6,1.6,2.2,2.8]}}}},
   {"data":{"values":[{}]},"mark":{"type":"rect","filled":false,"color":"#333","strokeWidth":1.2},"encoding":{"x":{"datum":0,"type":"quantitative"},"x2":{"datum":20},"y":{"datum":0,"type":"quantitative"},"y2":{"datum":1}}},
   {"data":{"values":[{"lab":"(g)"}]},"mark":{"type":"text","font":"Liberation Serif","fontWeight":"bold","fontSize":18,"align":"left","baseline":"alphabetic"},"encoding":{"x":{"datum":-7.06,"type":"quantitative","scale":{"domain":[0,20],"nice":false,"zero":false}},"y":{"datum":0.94,"type":"quantitative","scale":{"domain":[0,1],"nice":false,"zero":false}},"text":{"field":"lab"}}}
  ]},
  {"width":4,"height":226,"data":{"values":[]},"mark":{"type":"text","text":""},"view":{"fill":"#000"}},
  {"width":304,"height":226,"layer":[
   {"data":{"name":"go"},"mark":{"type":"line","color":"#1e8c1e","strokeWidth":1.4,"interpolate":"monotone"},"encoding":{"x":{"field":"t","type":"quantitative"},"y":{"field":"y","type":"quantitative"}}},
   {"data":{"name":"h"},"mark":{"type":"line","interpolate":"monotone"},"encoding":{
    "x":{"field":"t","type":"quantitative","scale":{"domain":[0,20],"range":[76,278],"nice":false,"zero":false},"axis":{"offset":-42,"values":[0,2.5,5,7.5,10,12.5,15,17.5,20],"format":".1f","labelExpr":"datum.value % 5 === 0 ? datum.label : ''","tickSize":{"condition":{"test":"datum.value % 5 === 0","value":-5},"value":-3},"labelPadding":9,"title":"t\u00a0 / ps","titlePadding":1}},
    "y":{"field":"y","type":"quantitative","scale":{"domain":[0,1],"range":[184,13],"nice":false,"zero":false},"axis":{"offset":-76,"values":[0,0.125,0.25,0.375,0.5,0.625,0.75,0.875,1],"format":".2f","labelExpr":"datum.value % 0.25 === 0 ? datum.label : ''","tickSize":{"condition":{"test":"datum.value % 0.25 === 0","value":-5},"value":-3},"labelPadding":10,"title":"C₂ᵒʰ(t)","titlePadding":12}},
    "color":{"field":"s","type":"nominal","scale":{"domain":["K0","K1","K2","K3","R0","R1","R2","R3","B0"],"range":["#000000","#000000","#000000","#000000","#ff0000","#ff0000","#ff0000","#ff0000","#0000ff"]}},
    "strokeDash":{"field":"s","type":"nominal","scale":{"domain":["K0","K1","K2","K3","R0","R1","R2","R3","B0"],"range":[[1,0],[5,3],[7,3,2,3],[2,3],[1,0],[5,3],[7,3,2,3],[2,2.5],[1,0]]}},
    "strokeWidth":{"field":"s","type":"ordinal","scale":{"domain":["K0","K1","K2","K3","R0","R1","R2","R3","B0"],"range":[1.4,1.4,1.4,1.7,1.6,1.6,1.6,2.2,2.8]}}}},
   {"data":{"values":[{}]},"mark":{"type":"rect","filled":false,"color":"#333","strokeWidth":1.2},"encoding":{"x":{"datum":0,"type":"quantitative"},"x2":{"datum":20},"y":{"datum":0,"type":"quantitative"},"y2":{"datum":1}}},
   {"data":{"values":[{"lab":"(h)"}]},"mark":{"type":"text","font":"Liberation Serif","fontWeight":"bold","fontSize":18,"align":"left","baseline":"alphabetic"},"encoding":{"x":{"datum":-7.06,"type":"quantitative","scale":{"domain":[0,20],"nice":false,"zero":false}},"y":{"datum":0.94,"type":"quantitative","scale":{"domain":[0,1],"nice":false,"zero":false}},"text":{"field":"lab"}}}
  ]}
 ]}
]
}
